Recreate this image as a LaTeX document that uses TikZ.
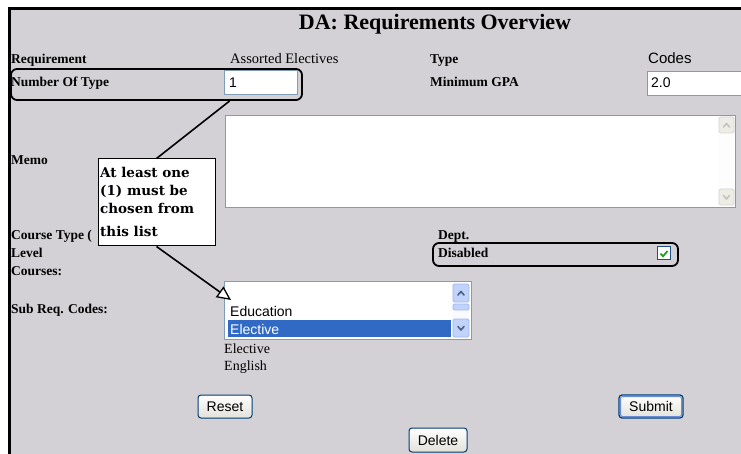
\documentclass[tikz,border=0pt]{standalone}
\usepackage{fontspec}
\setmainfont{Liberation Serif}
\setsansfont{Liberation Sans}
\newfontfamily\calloutfont{DejaVu Serif}
\usetikzlibrary{calc,arrows.meta}
\definecolor{bg}{RGB}{212,209,214}
\definecolor{inborder}{RGB}{127,157,185}
\definecolor{selblue}{RGB}{49,106,197}
\definecolor{btnborder}{RGB}{0,60,116}
\definecolor{btnbottom}{RGB}{226,225,218}
\definecolor{sbfill}{RGB}{193,211,251}
\definecolor{sbborder}{RGB}{160,185,235}
\definecolor{sbarrow}{RGB}{77,97,133}
\definecolor{disfill}{RGB}{238,237,229}
\definecolor{disborder}{RGB}{214,213,217}
\definecolor{disarrow}{RGB}{195,195,195}
\definecolor{chkgreen}{RGB}{33,161,33}
\definecolor{chkborder}{RGB}{28,81,128}
\definecolor{focusblue}{RGB}{105,140,215}
\tikzset{
  lbl/.style={anchor=base west, inner sep=0pt, font=\fontsize{13.5}{16}\selectfont\bfseries},
  txt/.style={anchor=base west, inner sep=0pt, font=\fontsize{14}{16}\selectfont},
  sans/.style={anchor=base west, inner sep=0pt, font=\sffamily\fontsize{14}{16}\selectfont},
  note/.style={anchor=base west, inner sep=0pt, font=\calloutfont\bfseries\fontsize{13.5}{17}\selectfont},
  inbox/.style={draw=inborder, fill=white, line width=1pt},
  hlbox/.style={draw=black, line width=1.8pt, rounded corners=6pt, inner sep=0pt},
  xpbtn/.style={draw=btnborder, line width=1pt, rounded corners=3pt, top color=white, bottom color=btnbottom, inner sep=0pt, font=\sffamily\fontsize{14}{16}\selectfont},
  sbbtn/.style={draw=sbborder, fill=sbfill, rounded corners=1.5pt, line width=0.8pt},
  disbtn/.style={draw=disborder, fill=disfill, rounded corners=1.5pt, line width=0.8pt},
  chev/.style={line width=1.6pt, line cap=round, line join=round},
  conn/.style={draw=black, line width=1.6pt}
}
\begin{document}
\begin{tikzpicture}[x=1pt,y=-1pt]
\useasboundingbox (0,0) rectangle (741,454);
% frame and background
\fill[white] (0,0) rectangle (741,454);
\fill[black] (8,7) rectangle (741,454);
\fill[bg] (11,10) rectangle (741,454);

% title
\node[anchor=base, inner sep=0pt, font=\fontsize{22}{26}\selectfont\bfseries] (title) at (435,30) {DA: Requirements Overview};

% row 1
\node[lbl] (req) at (11,64) {Requirement};
\node[txt, font=\fontsize{14.5}{16}\selectfont] (assorted) at (230,64) {Assorted Electives};
\node[lbl] (type) at (430,64) {Type};
\node[sans, font=\sffamily\fontsize{15}{16}\selectfont] (codes) at (648,64) {Codes};

% row 2
\node[hlbox, minimum width=291pt, minimum height=31pt] (numbox) at (156.5,84.5) {};
\node[lbl] (numtype) at (11,87) {Number Of Type};
\node[inbox, minimum width=73pt, minimum height=24pt, inner sep=0pt] (numin) at (260.5,83) {};
\node[sans] (numval) at (229,88) {1};
\node[lbl] (mingpa) at (430,87) {Minimum GPA};
\node[inbox, minimum width=100pt, minimum height=24pt, inner sep=0pt, anchor=north west] (gpain) at (647,71) {};
\node[sans] (gpaval) at (651,88) {2.0};

% memo
\node[lbl] (memo) at (11,165) {Memo};
\node[inbox, minimum width=510pt, minimum height=92pt, inner sep=0pt, anchor=north west] (memoin) at (225,115) {};
\fill[white!96!bg] (718,116) rectangle (735,206);
\draw[disbtn] (719,117) rectangle (734,133);
\draw[disbtn] (719,189) rectangle (734,205);
\draw[chev, disarrow] (723.5,127) -- (726.5,123.5) -- (729.5,127);
\draw[chev, disarrow] (723.5,195.5) -- (726.5,199) -- (729.5,195.5);

% left labels lower
\node[lbl] (ctype) at (11,240) {Course Type (};
\node[lbl] (level) at (11,258) {Level};
\node[lbl] (courses) at (11,276) {Courses:};
\node[lbl] (subreq) at (11,313) {Sub Req. Codes:};

% dept / disabled
\node[lbl] (dept) at (438,240) {Dept.};
\node[hlbox, minimum width=245pt, minimum height=23pt] (disbox) at (555.5,254.5) {};
\node[lbl] (disabled) at (438,258) {Disabled};
\node[draw=chkborder, fill=white, line width=1pt, minimum width=13pt, minimum height=13pt, inner sep=0pt] (chk) at (664,253.5) {};
\draw[chkgreen, line width=1.8pt] ($(chk.center)+(-3.5,0)$) -- ($(chk.center)+(-1,2.8)$) -- ($(chk.center)+(3.5,-2.5)$);

% list box
\node[inbox, minimum width=247pt, minimum height=58pt, inner sep=0pt, anchor=north west] (list) at (224,281) {};
\fill[selblue] (228,320) rectangle (451,337);
\node[sans] (edu) at (230,316) {Education};
\node[sans, text=white] (elec) at (230,334) {Elective};
\fill[white!92!sbfill] (452,283) rectangle (469,338);
\draw[sbbtn] (453,284) rectangle (469,302);
\draw[sbbtn] (453,304) rectangle (469,310);
\draw[sbbtn] (453,319) rectangle (469,337);
\draw[chev, sbarrow] (458,295) -- (461,291.5) -- (464,295);
\draw[chev, sbarrow] (458,326.5) -- (461,330) -- (464,326.5);

\node[txt] (elective2) at (224,353) {Elective};
\node[txt] (english) at (224,370) {English};

% buttons
\node[xpbtn, minimum width=54pt, minimum height=23pt] (reset) at (225,406.5) {Reset};
\node[xpbtn, minimum width=64pt, minimum height=23pt, line width=1.2pt] (submit) at (651,406.5) {Submit};
\draw[focusblue, line width=1pt, rounded corners=2pt] (620.5,396.5) rectangle (681.5,416.5);
\node[xpbtn, minimum width=58pt, minimum height=24pt] (delete) at (438,440) {Delete};

% callout
\node[draw=black, fill=white, line width=1pt, minimum width=117pt, minimum height=87pt, inner sep=0pt] (callout) at (156.5,202.5) {};
\node[note] (l1) at (100,178) {At least one};
\node[note] (l2) at (100,196) {(1) must be};
\node[note] (l3) at (100,214) {chosen from};
\node[note] (l4) at (100,237) {this list};

% connectors
\coordinate (numanchor) at ($(numbox.south west)!0.75!(numbox.south east)$);
\coordinate (listtip) at ($(list.north west)+(7,19)$);
\draw[conn] (callout.north) -- (numanchor);
\draw[conn, -{Triangle[open, length=14pt, width=13pt, fill=white, line width=1.3pt]}] (callout.south) -- (listtip);
\end{tikzpicture}
\end{document}
